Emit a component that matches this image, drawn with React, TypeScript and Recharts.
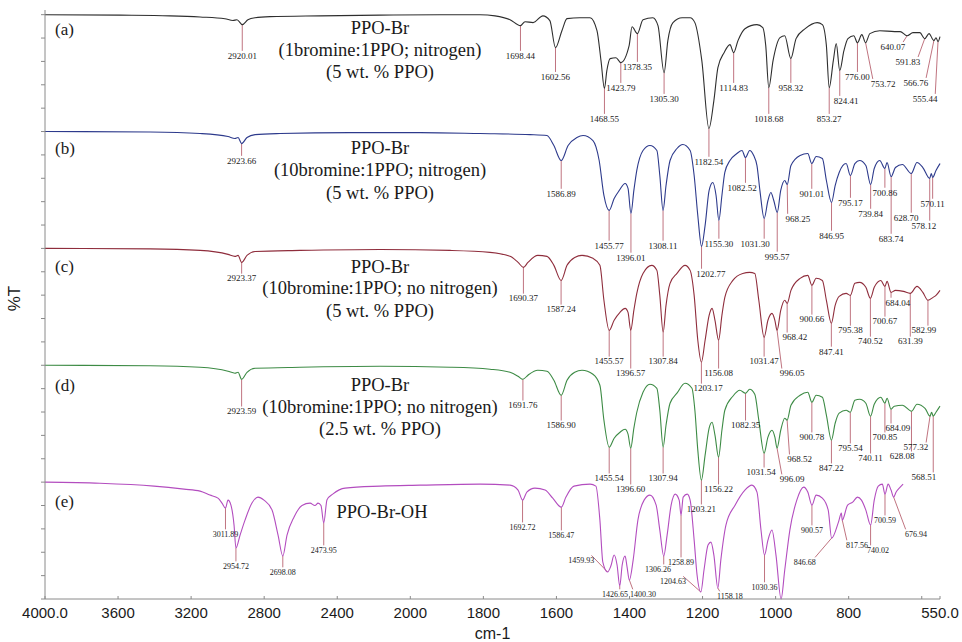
import { ComposedChart, Line, Scatter, XAxis, YAxis, Label } from 'recharts'

type Pt = [number, number]
type Peak = [number, number, number?]

// bottom axis: 400 cm-1 steps above 2000, 200 cm-1 steps below
const tickWavenumbers = [4000, 3600, 3200, 2800, 2400, 2000, 1800, 1600, 1400, 1200, 1000, 800, 600, 550]
const tickLabels = ['4000.0', '3600', '3200', '2800', '2400', '2000', '1800', '1600', '1400', '1200', '1000', '800', '', '550.0']

const panelTags = ['(a)', '(b)', '(c)', '(d)', '(e)']
const panelTitles = [
  ['PPO-Br', '(1bromine:1PPO; nitrogen)', '(5 wt. % PPO)'],
  ['PPO-Br', '(10bromine:1PPO; nitrogen)', '(5 wt. % PPO)'],
  ['PPO-Br', '(10bromine:1PPO; no nitrogen)', '(5 wt. % PPO)'],
  ['PPO-Br', '(10bromine:1PPO; no nitrogen)', '(2.5 wt. % PPO)'],
  ['PPO-Br-OH'],
]

// [wavenumber, %T]
const spectrumA: Pt[] = [
  [4000, 100], [3589, 99.6], [3316, 99], [3151, 98], [3015, 96.5], [2971, 95], [2949, 95.7], [2920.01, 91.5],
  [2889, 95.7], [2850, 97.4], [2768, 98.3], [2494, 99], [2166, 99.6], [1919, 100], [1809, 100], [1768, 99],
  [1727, 95.7], [1698.44, 90.6], [1686, 94], [1664, 93.2], [1637, 99], [1618, 94.9], [1602.56, 71.8], [1585, 86.3],
  [1571, 96.6], [1536, 97.4], [1508, 97.4], [1489, 86.3], [1478, 60.7], [1468.55, 36.8], [1462, 52.1], [1453, 62.4],
  [1437, 63.2], [1423.79, 59], [1401, 73.5], [1393, 89.7], [1378.35, 83.8], [1363, 95.7], [1336, 97.4], [1322, 90.6],
  [1305.3, 50.4], [1295, 77.8], [1281, 93.2], [1256, 97.4], [1234, 97.4], [1221, 93.2], [1202, 60.7], [1182.54, 2.6],
  [1169, 26.5], [1158, 54.7], [1141, 67.5], [1125, 74.4], [1114.83, 67.5], [1103, 77.8], [1084, 88], [1051, 91.5],
  [1035, 88.9], [1027, 73.5], [1018.68, 37.6], [1007, 60.7], [988, 80.3], [975, 82], [958.32, 62.4], [944, 79.5],
  [919, 88], [886, 93.2], [872, 91.5], [861, 73.5], [853.27, 37.6], [842, 60.7], [834, 75.2], [824.41, 52.1],
  [813, 69.2], [802, 79.5], [786, 82], [776.0, 76], [764, 82.9], [753.72, 76], [742, 83.8], [715, 86.3],
  [674, 85.5], [659, 85.5], [640.07, 82], [624, 84.6], [605, 84.6], [591.83, 79.5], [580, 83.8], [566.76, 77.8],
  [561, 80.3], [555.44, 76.9], [550, 81.2],
]

const spectrumB: Pt[] = [
  [4000, 100], [3425, 99.6], [3151, 98.3], [2998, 95.7], [2960, 94], [2943, 94.9], [2923.66, 89.7], [2894, 94.9],
  [2850, 97.4], [2713, 98.3], [2330, 99.1], [1973, 99.1], [1809, 98.3], [1672, 97.4], [1626, 96.6], [1607, 88],
  [1586.89, 75.2], [1568, 88], [1544, 94.9], [1527, 96.6], [1500, 92.3], [1483, 75.2], [1470, 45.3], [1455.77, 32.5],
  [1442, 42.7], [1428, 49.6], [1412, 55.6], [1404, 51.3], [1396.01, 29.9], [1388, 49.6], [1380, 66.7], [1363, 83.8],
  [1344, 88], [1325, 83.8], [1317, 62.4], [1308.11, 32.5], [1300, 53.8], [1289, 75.2], [1270, 85.5], [1254, 88.9],
  [1234, 83.8], [1223, 62.4], [1213, 28.2], [1202.77, 1.7], [1193, 19.7], [1182, 49.6], [1172, 56.4], [1163, 45.3],
  [1155.3, 23.9], [1147, 45.3], [1139, 65], [1125, 75.2], [1106, 81.2], [1092, 83.8], [1082.52, 77.8], [1071, 83.8],
  [1060, 79.5], [1051, 70.9], [1043, 49.6], [1031.3, 25.6], [1021, 41], [1013, 47.9], [1005, 41], [995.57, 30.8],
  [986, 49.6], [975, 58.1], [968.25, 54.7], [958, 70.9], [933, 79.5], [912, 81.2], [901.01, 72.6], [889, 78.6],
  [872, 76.9], [861, 58.1], [846.95, 39.3], [837, 53.8], [826, 65], [807, 72.6], [795.17, 62.4], [783, 72.6],
  [770, 75.2], [753, 70.9], [739.84, 54.7], [730, 68.4], [715, 75.2], [700.86, 68.4], [695, 73.5], [683.74, 61.5],
  [672, 69.2], [653, 71.8], [628.7, 64.1], [613, 73.5], [597, 69.2], [578.12, 59.8], [574, 64.1], [570.11, 60.7],
  [561, 66.7], [550, 72.6],
]

const spectrumC: Pt[] = [
  [4000, 100], [3425, 99.6], [3151, 98.3], [2998, 94.9], [2960, 93.2], [2943, 94], [2923.37, 88], [2894, 94],
  [2850, 97.4], [2604, 98.3], [2166, 99.1], [1891, 98.3], [1782, 96.6], [1727, 93.2], [1705, 88], [1690.37, 83.8],
  [1678, 88], [1651, 94], [1626, 93.2], [1607, 85.5], [1587.24, 72.6], [1571, 85.5], [1550, 92.3], [1530, 94],
  [1500, 91.5], [1481, 85.5], [1470, 55.6], [1455.57, 29.9], [1442, 38.5], [1426, 45.3], [1412, 48.7], [1404, 45.3],
  [1396.57, 29.9], [1388, 47], [1380, 61.5], [1363, 78.6], [1339, 85.5], [1325, 81.2], [1317, 59.8], [1307.84, 28.2],
  [1300, 51.3], [1289, 70.1], [1270, 78.6], [1248, 85.5], [1234, 81.2], [1223, 59.8], [1213, 21.4], [1203.17, 2.6],
  [1193, 21.4], [1182, 42.7], [1174, 48.7], [1166, 38.5], [1156.08, 21.4], [1147, 42.7], [1139, 58.1], [1117, 72.6],
  [1090, 78.6], [1071, 79.5], [1057, 78.6], [1046, 55.6], [1031.47, 23.9], [1021, 38.5], [1010, 44.4], [1002, 38.5],
  [996.05, 29.9], [986, 47], [975, 55.6], [968.42, 53], [958, 64.1], [933, 74.4], [912, 76.9], [900.66, 68.4],
  [889, 74.4], [872, 72.6], [861, 55.6], [847.41, 35.9], [837, 51.3], [826, 59], [807, 61.5], [795.38, 59.8],
  [783, 70.1], [770, 70.9], [753, 66.7], [740.52, 57.3], [730, 66.7], [712, 72.6], [700.67, 67.5], [695, 71.8],
  [684.04, 62.4], [672, 64.1], [650, 63.2], [631.39, 61.5], [613, 67.5], [597, 62.4], [582.99, 55.6], [569, 58.1],
  [561, 59.8], [550, 64.1],
]

const spectrumD: Pt[] = [
  [4000, 100], [3425, 99.6], [3151, 98.3], [2998, 94.9], [2960, 93.2], [2943, 94], [2923.59, 88], [2894, 94],
  [2850, 97.4], [2604, 98.3], [2166, 99.1], [1891, 98.3], [1782, 96.6], [1727, 94], [1705, 90.6], [1691.76, 88],
  [1678, 91.5], [1651, 95.7], [1626, 94.9], [1607, 87.2], [1586.9, 74.4], [1571, 87.2], [1550, 94], [1530, 95.7],
  [1500, 92.3], [1481, 82.9], [1470, 53], [1455.54, 29.9], [1442, 37.6], [1426, 42.7], [1412, 45.3], [1404, 41],
  [1396.6, 29.1], [1388, 46.2], [1380, 59.8], [1363, 76.9], [1344, 83.8], [1325, 80.3], [1317, 61.5], [1307.94, 29.9],
  [1300, 48.7], [1289, 67.5], [1270, 76.1], [1248, 84.6], [1229, 80.3], [1221, 61.5], [1213, 27.4], [1203.21, 1.7],
  [1193, 23.1], [1182, 46.2], [1174, 51.3], [1166, 40.2], [1156.22, 21.4], [1147, 44.4], [1139, 61.5], [1117, 73.5],
  [1098, 78.6], [1082.35, 76.1], [1071, 79.5], [1057, 75.2], [1046, 53], [1031.54, 24.8], [1021, 38.5], [1010, 44.4],
  [1002, 38.5], [996.09, 29.1], [986, 44.4], [975, 54.7], [968.52, 53], [958, 65.8], [933, 74.4], [912, 76.9],
  [900.78, 68.4], [889, 74.4], [872, 72.6], [861, 57.3], [847.22, 35.9], [837, 50.4], [826, 59], [807, 61.5],
  [795.54, 59.8], [783, 70.1], [770, 70.9], [753, 67.5], [740.11, 56.4], [730, 66.7], [712, 72.6], [700.85, 67.5],
  [695, 71.8], [684.09, 62.4], [675, 65], [653, 65.8], [628.08, 60.7], [613, 66.7], [591, 63.2], [577.32, 56.4],
  [573, 59.8], [568.51, 56.4], [561, 59.8], [550, 65],
]

const spectrumE: Pt[] = [
  [4000, 100], [3699, 99.1], [3403, 96.6], [3239, 94], [3151, 92.3], [3097, 88.9], [3053, 86.3], [3031, 82.1],
  [3011.89, 77.8], [2998, 84.6], [2982, 80.3], [2965, 63.2], [2954.72, 43.6], [2932, 54.7], [2905, 67.5], [2867, 82.1],
  [2834, 87.2], [2801, 84.6], [2757, 76.1], [2724, 54.7], [2698.08, 36.8], [2675, 54.7], [2637, 70], [2593, 80],
  [2549, 82], [2522, 80], [2505, 82], [2489, 80], [2473.95, 65], [2456, 85], [2423, 90], [2357, 94.9],
  [2166, 96.6], [1973, 97.4], [1809, 98.3], [1727, 97.4], [1705, 93.2], [1692.72, 84.6], [1681, 91.5], [1659, 94.9],
  [1631, 93.2], [1610, 86.3], [1586.47, 78.6], [1574, 87.2], [1552, 96.6], [1508, 98.3], [1492, 96.6], [1481, 67.5],
  [1473, 31.6], [1459.93, 23.1], [1451, 28.2], [1442, 37.6], [1434, 29.1], [1426.65, 11.1], [1420, 29.1], [1412, 36.8],
  [1407, 28.2], [1400.3, 16.2], [1390, 33.3], [1377, 67.5], [1360, 84.6], [1344, 88.9], [1327, 80.3], [1317, 59],
  [1306.26, 36.8], [1297, 54.7], [1286, 80.3], [1275, 89.7], [1264, 84.6], [1258.89, 71.8], [1253, 87.2], [1242, 89.7],
  [1234, 84.6], [1223, 50.4], [1215, 20.5], [1204.63, 6], [1196, 24.8], [1185, 46.2], [1177, 48.7], [1169, 37.6],
  [1158.18, 9.4], [1150, 33.3], [1136, 63.2], [1111, 80.3], [1084, 93.2], [1065, 97.4], [1051, 91.5], [1040, 59],
  [1030.36, 37.6], [1021, 50.4], [1010, 59], [999, 37.6], [985, 0], [975, 24.8], [961, 59], [942, 84.6],
  [923, 95.7], [912, 91.5], [900.57, 80.3], [889, 88.9], [872, 86.3], [856, 76.1], [846.68, 52.1], [828, 65.8],
  [820, 73.5], [817.56, 67.5], [803, 80.3], [789, 82.9], [776, 87.2], [765, 84.6], [753, 76.1], [740.02, 63.2],
  [730, 84.6], [719, 96.6], [708, 98.3], [700.59, 89.7], [692, 98.3], [684, 93.2], [676.94, 87.2], [670, 91.5],
  [659, 95.7], [651, 98.3],
]

// [peak wavenumber, %T where its label sits, wavenumber the label is centred on (if shifted)]
const peaksA: Peak[] = [
  [2920.01, 65], [1698.44, 65], [1602.56, 47], [1468.55, 11.1], [1423.79, 37.6], [1378.35, 55.6], [1305.3, 28.2],
  [1182.54, -25.6], [1114.83, 37.6], [1018.68, 11.1], [958.32, 37.6], [853.27, 11.1], [824.41, 26.5, 807],
  [776.0, 47], [753.72, 41, 706], [640.07, 72.6, 679], [591.83, 59.8, 638], [566.76, 41.9, 616], [555.44, 28.2, 591],
]
const peaksB: Peak[] = [
  [2923.66, 75.2], [1586.89, 47], [1455.77, 2.6], [1396.01, -7.7], [1308.11, 2.6], [1202.77, -21.4, 1177],
  [1155.3, 4.3], [1082.52, 52.1, 1092], [1031.3, 4.3, 1056], [995.57, -6.8], [968.25, 25.6, 939], [901.01, 47],
  [846.95, 11.1], [795.17, 39.3], [739.84, 29.9], [700.86, 47.9], [683.74, 8.5], [628.7, 26.5, 643],
  [578.12, 19.7, 594], [570.11, 38.5],
]
const peaksC: Peak[] = [
  [2923.37, 74.4], [1690.37, 57.3], [1587.24, 47.9], [1455.57, 3.4], [1396.57, -6.8], [1307.84, 3.4],
  [1203.17, -19.7, 1185], [1156.08, -6.8], [1031.47, 3.4], [996.05, -6.8, 955], [968.42, 24, 947], [900.66, 39.3],
  [847.41, 11.9], [795.38, 29.9], [740.52, 20.5], [700.67, 37.6], [684.04, 53.8, 665], [631.39, 20.5],
  [582.99, 29.9, 594],
]
const peaksD: Peak[] = [
  [2923.59, 60.7], [1691.76, 65.8], [1586.9, 48.7], [1455.54, 3.4], [1396.6, -6], [1307.94, 3.4], [1203.21, -23.1],
  [1156.22, -6], [1082.35, 48.7], [1031.54, 8.5, 1040], [996.09, 2.6, 955], [968.52, 19.7, 934], [900.78, 38.5],
  [847.22, 12], [795.54, 29.1], [740.11, 20.5], [700.85, 38.5], [684.09, 46.2, 665], [628.08, 22.2, 654],
  [577.32, 29.9, 616], [568.51, 4.3, 594],
]
const peaksE: Peak[] = [
  [3011.89, 55.6], [2954.72, 28.2], [2698.08, 23.1], [2473.95, 41.9], [1692.72, 61.5], [1586.47, 54.7],
  [1459.93, 33.3, 1532], [1426.65, 4.3, 1440], [1400.3, 4.3, 1363], [1306.26, 25.6, 1322], [1258.89, 31.6],
  [1204.63, 15.4, 1281], [1158.18, 2.6, 1125], [1030.36, 10.3], [900.57, 59], [846.68, 31.6, 920],
  [817.56, 46.2, 777], [740.02, 41.9, 720], [700.59, 67.5], [676.94, 55.6, 616],
]

const spectra = [spectrumA, spectrumB, spectrumC, spectrumD, spectrumE]
const peaks = [peaksA, peaksB, peaksC, peaksD, peaksE]
const colors = ['#2e2e2e', '#2d3a8c', '#8f2d3c', '#3d8b45', '#b34dbf']
const leaderColor = '#c07480'

// text placement inside each panel, in %T of that panel
const tagT = [87.8, 85.9, 84.9, 83.2, 83.6]
const titleT = [[88.6, 69.8, 51], [85.9, 67.1, 48.2], [84.9, 66.1, 47.2], [83.2, 64.4, 45.6], [74.5]]
const titleWn = [2166, 2166, 2166, 2166, 2155]
const tagWn = 3945
const peakFont = [9, 9, 9, 9, 8]

const SERIF = "'Liberation Serif', 'Times New Roman', serif"
const SANS = "'Liberation Sans', Arial, sans-serif"

// piecewise wavenumber axis -> linear position
const toU = (wn: number) => (wn >= 2000 ? (4000 - wn) / 400 : 5 + (2000 - wn) / 200)
// each panel is 5 units tall, 100 %T at its top
const toY = (panel: number, t: number) => 25 - 5 * panel - (100 - t) / 20

const ticksU = tickWavenumbers.map(toU)
const tickText = (v: number) => {
  const i = ticksU.findIndex((t) => Math.abs(t - v) < 1e-6)
  return i >= 0 ? tickLabels[i] : ''
}

const lineData = spectra.map((s, i) => s.map(([wn, t]) => ({ u: toU(wn), y: toY(i, t) })))

const leaderData = peaks.map((list, i) =>
  list.flatMap(([wn, labelT, labelWn]) => {
    const dip = spectra[i].find((p) => p[0] === wn)
    const dipT = dip ? dip[1] : 100
    const ud = toU(wn)
    const ul = toU(labelWn ?? wn)
    const ue = Math.min(Math.max(ud, ul - 0.14), ul + 0.14)
    return [
      { u: ud, y: toY(i, dipT) },
      { u: ue, y: toY(i, labelT) + 0.2 },
      { u: ue, y: null },
    ]
  })
)

const labelData = peaks.map((list, i) =>
  list.map(([wn, labelT, labelWn]) => ({ u: toU(labelWn ?? wn), y: toY(i, labelT), text: wn.toFixed(2) }))
)

const tagData = panelTags.map((text, i) => ({ u: toU(tagWn), y: toY(i, tagT[i]), text }))
const titleData = panelTitles.flatMap((lines, i) =>
  lines.map((text, j) => ({ u: toU(titleWn[i]), y: toY(i, titleT[i][j]), text }))
)

const textShape = (size: number, anchor: string) => (props: any) => (
  <text
    x={props.cx}
    y={props.cy}
    dy="0.35em"
    textAnchor={anchor}
    fontSize={size}
    fontFamily={SERIF}
    fill="#1a1a1a"
  >
    {props.payload.text}
  </text>
)

export default function App() {
  return (
    <div style={{ position: 'fixed', left: 0, top: 0, width: 962, height: 642, background: '#fff' }}>
      <ComposedChart width={962} height={642} margin={{ top: 10, right: 22, bottom: 13, left: 0 }}>
        <XAxis
          type="number"
          dataKey="u"
          domain={[0, 12.25]}
          ticks={ticksU}
          interval={0}
          tickFormatter={tickText}
          height={30}
          tickSize={-3}
          tickMargin={11}
          axisLine={{ stroke: '#8a8a8a' }}
          tickLine={{ stroke: '#8a8a8a' }}
          tick={{ fontSize: 15, fill: '#1a1a1a', fontFamily: SANS }}
        >
          <Label
            content={({ viewBox }: any) => (
              <text
                x={viewBox.x + viewBox.width / 2}
                y={viewBox.y + 34}
                dy="0.35em"
                textAnchor="middle"
                fontSize={16}
                fontFamily={SANS}
                fill="#1a1a1a"
              >
                cm-1
              </text>
            )}
          />
        </XAxis>
        <YAxis
          type="number"
          dataKey="y"
          domain={[0, 25.2]}
          ticks={Array.from({ length: 26 }, (_, k) => k)}
          interval={0}
          tickFormatter={() => ''}
          width={45}
          tickSize={4}
          axisLine={{ stroke: '#8a8a8a' }}
          tickLine={{ stroke: '#8a8a8a' }}
        >
          <Label
            content={({ viewBox }: any) => {
              const cx = viewBox.x + 14
              const cy = viewBox.y + viewBox.height / 2 - 6
              return (
                <text
                  x={cx}
                  y={cy}
                  dy="0.35em"
                  textAnchor="middle"
                  fontSize={17}
                  fontFamily={SANS}
                  fill="#1a1a1a"
                  transform={`rotate(-90, ${cx}, ${cy})`}
                >
                  %T
                </text>
              )
            }}
          />
        </YAxis>

        {leaderData.map((d, i) => (
          <Line
            key={`leader-${i}`}
            data={d}
            dataKey="y"
            type="linear"
            stroke={leaderColor}
            strokeWidth={1}
            dot={false}
            activeDot={false}
            connectNulls={false}
            isAnimationActive={false}
          />
        ))}
        {lineData.map((d, i) => (
          <Line
            key={`spectrum-${i}`}
            data={d}
            dataKey="y"
            type="monotoneX"
            stroke={colors[i]}
            strokeWidth={1.1}
            dot={false}
            activeDot={false}
            isAnimationActive={false}
          />
        ))}
        {labelData.map((d, i) => (
          <Scatter
            key={`labels-${i}`}
            data={d}
            dataKey="y"
            shape={textShape(peakFont[i], 'middle')}
            isAnimationActive={false}
          />
        ))}
        <Scatter data={tagData} dataKey="y" shape={textShape(17, 'start')} isAnimationActive={false} />
        <Scatter data={titleData} dataKey="y" shape={textShape(18.5, 'middle')} isAnimationActive={false} />
      </ComposedChart>
    </div>
  )
}
